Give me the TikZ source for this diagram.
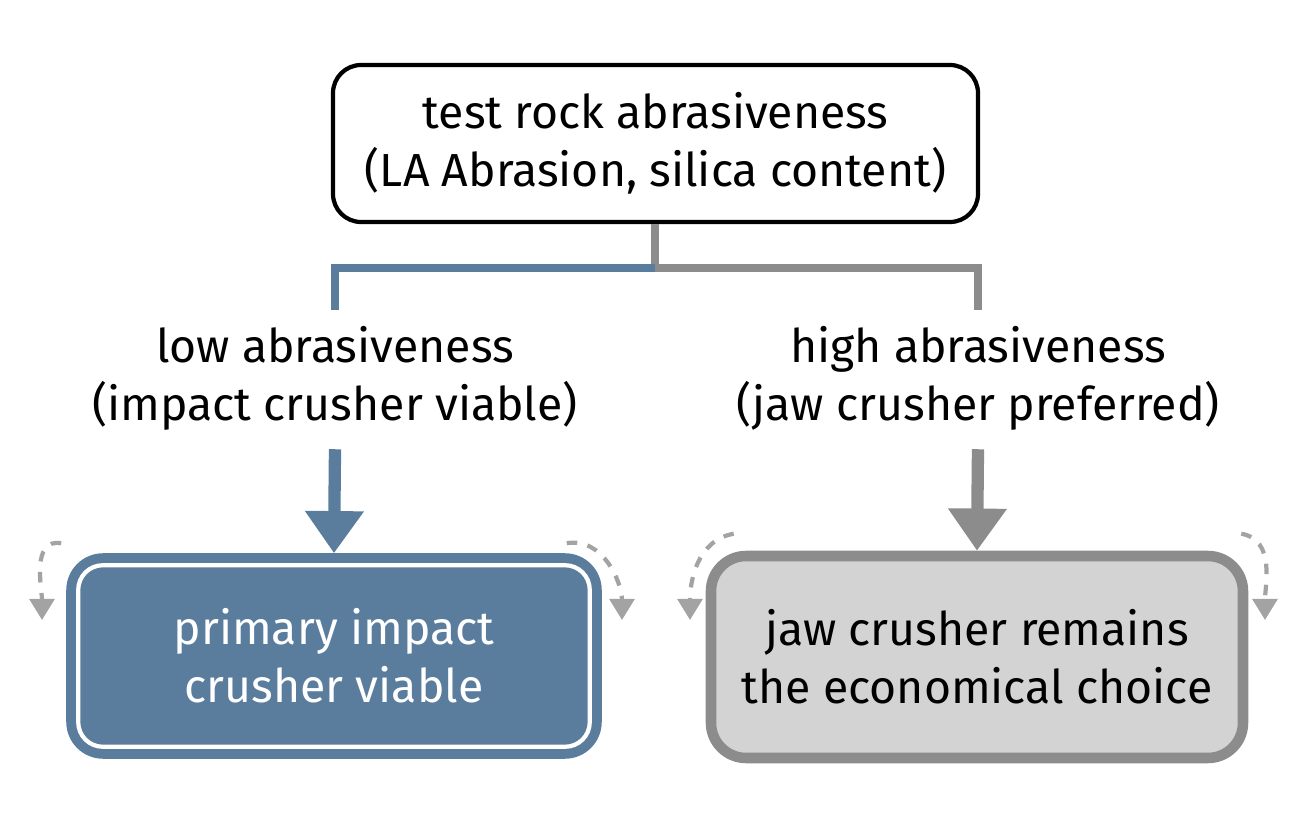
\documentclass[tikz,border=0pt]{standalone}
\usepackage{fontspec}
\setmainfont{Fira Sans}
\usetikzlibrary{arrows.meta,positioning}
\definecolor{steel}{HTML}{5A7D9E}
\definecolor{ash}{HTML}{8C8C8C}
\definecolor{pale}{HTML}{D3D3D3}
\tikzset{
  testbox/.style={draw=black, line width=1.2pt, rounded corners=8pt, fill=white,
                  minimum width=6.45cm, minimum height=1.57cm, align=center, font=\fontsize{13.2}{16.5}\selectfont},
  branch/.style={align=center, inner sep=1pt, font=\fontsize{13.2}{16.5}\selectfont},
  outbox/.style={rounded corners=10pt, minimum width=5.32cm, minimum height=2.02cm,
                 align=center, font=\fontsize{13.2}{16.5}\selectfont},
  flow/.style={line width=3.5pt, -{Triangle[length=12pt,width=16pt]}},
  loop/.style={ash!80, dashed, line width=1.2pt, -{Triangle[length=6pt,width=7pt]}}
}
\begin{document}
\begin{tikzpicture}
\useasboundingbox (0,0) rectangle (13.12,8.16);
\node[testbox] (test) at (6.555,6.725) {test rock abrasiveness\\(LA Abrasion, silica content)};
\node[branch] (low) at (3.35,4.38) {low abrasiveness\\(impact crusher viable)};
\node[branch] (high) at (9.78,4.38) {high abrasiveness\\(jaw crusher preferred)};
\node[outbox, fill=steel, draw=steel, line width=1pt, text=white] (impact) at (3.34,1.60) {primary impact\\crusher viable};
\draw[white, line width=1.2pt, rounded corners=7pt]
  ([shift={(0.12,0.12)}]impact.south west) rectangle ([shift={(-0.12,-0.12)}]impact.north east);
\node[outbox, fill=pale, draw=ash, line width=3pt] (jaw) at (9.77,1.59) {jaw crusher remains\\the economical choice};
% split below the test
\coordinate (split) at (6.55,5.48);
\draw[ash, line width=2.5pt] (test.south -| split) -- (split);
\draw[steel, line width=2.5pt] (split) -| ([yshift=0.12cm]low.north);
\draw[ash, line width=2.5pt] (split) -| ([yshift=0.12cm]high.north);
\draw[flow, steel] ([yshift=-0.15cm]low.south) -- (impact.north);
\draw[flow, ash] ([yshift=-0.15cm]high.south) -- (jaw.north);
% side loops
\draw[loop] ([shift={(-0.05,0.1)}]impact.north west) to[out=170,in=90] (0.42,1.96);
\draw[loop] ([shift={(-0.35,0.1)}]impact.north east) to[out=10,in=90] (6.22,1.96);
\draw[loop] ([shift={(0.28,0.17)}]jaw.north west) to[out=190,in=90] (6.90,1.96);
\draw[loop] ([shift={(-0.07,0.17)}]jaw.north east) to[out=-10,in=90] (12.65,1.96);
\end{tikzpicture}
\end{document}
